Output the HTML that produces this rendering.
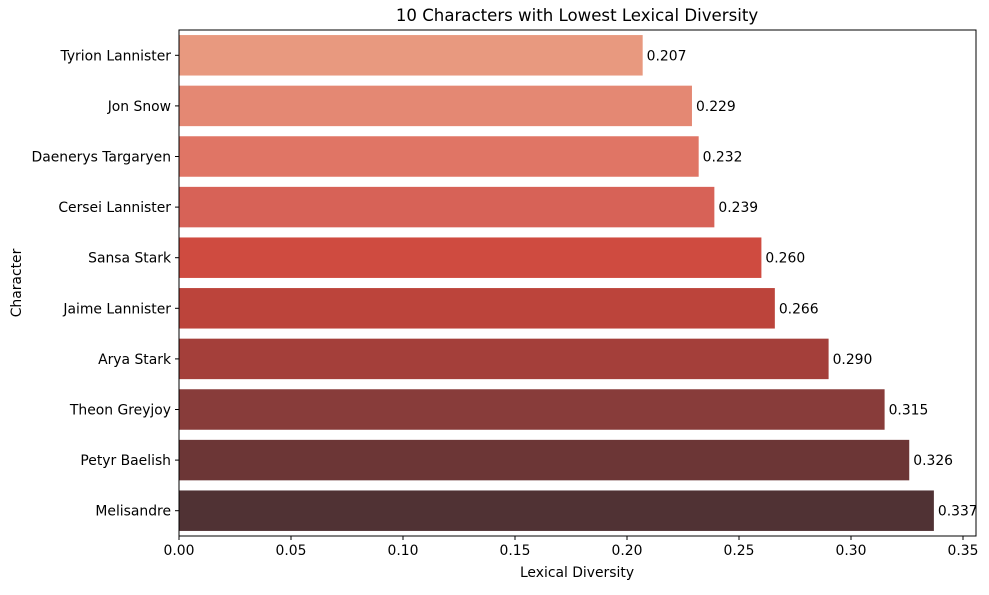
<!DOCTYPE html>
<html><head><meta charset="utf-8"><style>
body{margin:0;background:#fff;font-family:"Liberation Sans","DejaVu Sans",sans-serif;}
svg text{font-family:"DejaVu Sans","Liberation Sans",sans-serif;}
</style></head><body>
<svg id="chart" width="989" height="590">
<text x="577" y="21" font-size="16.6" text-anchor="middle">10 Characters with Lowest Lexical Diversity</text>
<g id="bars"></g>
<rect x="179" y="30" width="797" height="506" fill="none" stroke="#000" stroke-width="1"/>
<g id="xaxis"></g><g id="yaxis"></g>
<text x="577" y="577" font-size="13.9" text-anchor="middle">Lexical Diversity</text>
<text transform="translate(21,283) rotate(-90)" font-size="13.9" text-anchor="middle">Character</text>
</svg>
<script>
const categories=["Tyrion Lannister","Jon Snow","Daenerys Targaryen","Cersei Lannister","Sansa Stark","Jaime Lannister","Arya Stark","Theon Greyjoy","Petyr Baelish","Melisandre"];
const values=[0.207,0.229,0.232,0.239,0.260,0.266,0.290,0.315,0.326,0.337];
const xTicks=[0,0.05,0.10,0.15,0.20,0.25,0.30,0.35];
const colors=["#e8997f","#e48873","#e07565","#d76257","#cf4b40","#bc443b","#a43f3a","#883c3a","#6c3636","#503234"];
const NS="http://www.w3.org/2000/svg";
const L=179,T=30,H=506,X0=179,XS=(963-179)/0.35;
const band=H/categories.length;
const x=v=>X0+v*XS, y=i=>T+i*band;
function mk(tag,attrs,parent,txt){const e=document.createElementNS(NS,tag);for(const k in attrs)e.setAttribute(k,attrs[k]);if(txt!==undefined)e.textContent=txt;parent.appendChild(e);return e;}
const gb=document.getElementById('bars'),gx=document.getElementById('xaxis'),gy=document.getElementById('yaxis');
categories.forEach((c,i)=>{
 const r=mk('rect',{x:x(0),y:y(i)+band*0.1,width:x(values[i])-x(0),height:band*0.8,fill:colors[i]},gb);
 
 
 const t=mk('text',{x:x(values[i])+4,y:y(i)+band/2+5,'font-size':13.9},gb,values[i].toFixed(3));
 
 
 mk('line',{x1:L-4,x2:L,y1:y(i)+band/2,y2:y(i)+band/2,stroke:'#000'},gy);
 const yl=mk('text',{x:L-8,y:y(i)+band/2+5,'font-size':13.9,'text-anchor':'end'},gy,c);
 
 
});
xTicks.forEach(v=>{
 mk('line',{x1:x(v),x2:x(v),y1:T+H,y2:T+H+4,stroke:'#000'},gx);
 const tl=mk('text',{x:x(v),y:T+H+19,'font-size':13.9,'text-anchor':'middle'},gx,v.toFixed(2));
 
 
});
</script>
</body></html>
